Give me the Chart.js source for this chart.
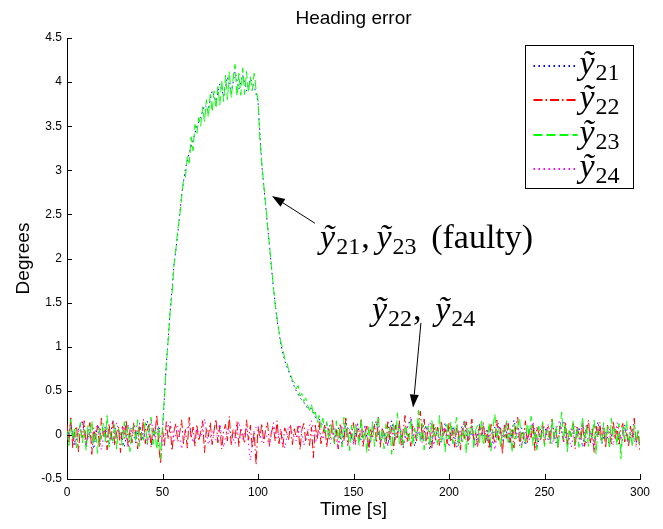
<!DOCTYPE html>
<html><head><meta charset="utf-8">
<script src="https://cdn.jsdelivr.net/npm/chart.js@4.4.1/dist/chart.umd.min.js"></script>
<style>html,body{margin:0;padding:0;background:#fff;overflow:hidden}#wrap{width:663px;height:529px}</style>
</head><body><div id="wrap"><canvas id="c" width="663" height="529"></canvas></div>
<script>
// ---------- text ----------
const titleText = 'Heading error';
const xAxisLabel = 'Time [s]';
const yAxisLabel = 'Degrees';

// ---------- tick labels ----------
const xTicks = [0, 50, 100, 150, 200, 250, 300];
const yTicks = [-0.5, 0, 0.5, 1, 1.5, 2, 2.5, 3, 3.5, 4, 4.5];

// ---------- series ----------
// y~21 : sampled every 2 s from t = 0 to 300
const y21Step = 2;
const y21 = [
  -0.04, 0.1, -0.13, 0.07, 0.15, -0.08, 0.03, -0.16, 0.12, -0.02,
  0.09, -0.11, 0.17, -0.05, 0.04, -0.14, 0.11, 0.06, -0.09, 0.13,
  -0.07, 0.16, -0.12, 0.05, 0.08,
  0.05, 0.8, 1.4, 1.92, 2.28,
  2.72, 3.02, 3.2, 3.34, 3.5,
  3.6, 3.74, 3.7, 3.9, 3.78,
  3.98, 3.84, 4.06, 3.88, 4.12,
  3.92, 4.08, 3.9, 4.04, 3.95,
  3.78, 3.06, 2.6, 2.14, 1.68,
  1.3, 1.02, 0.84, 0.72, 0.6,
  0.5, 0.42, 0.37, 0.3, 0.3,
  0.2, 0.18, 0.1, 0.08, 0.11,
  -0.03, 0.08, -0.11, 0.14, 0.02,
  -0.09, 0.12, -0.06, 0.1, -0.15, 0.05, 0.13, -0.08, 0.02, -0.12, 0.16, -0.04, 0.09, -0.1, 0.07, 0.18, -0.13, 0.04, -0.06, 0.11, -0.17, 0.08, 0.01, -0.09, 0.14,
  -0.05, 0.1, -0.14, 0.06, 0.15, -0.08, 0.03, -0.11, 0.12, -0.02, 0.07, -0.16, 0.09, 0.13, -0.07, 0.04, -0.1, 0.17, -0.03, 0.08, -0.12, 0.05, 0.11, -0.15, 0.02,
  0.1, -0.06, 0.14, -0.09, 0.03, 0.16, -0.12, 0.07, -0.04, 0.09, -0.14, 0.12, 0.01, -0.08, 0.15, -0.1, 0.05, -0.13, 0.08, 0.03, -0.16, 0.11, -0.05, 0.06, -0.09, 0.02
];

// y~22 : sampled every 1 s
const y22Step = 1;
const y22 = [
  0.12, -0.08, 0.21, -0.15, 0.04, 0.1, -0.19, 0.07, -0.03, 0.16,
  -0.11, 0.02, 0.14, -0.22, 0.08, -0.05, 0.11, -0.14, 0.19, -0.02,
  0.06, -0.17, 0.13, -0.07, 0.15, -0.12, 0.03, 0.09, -0.2, 0.11,
  -0.04, 0.17, -0.13, 0.06, -0.09, 0.14, 0.01, -0.16, 0.1, -0.06,
  0.18, -0.1, 0.05, 0.12, -0.14, 0.08, -0.02, 0.23, -0.11, -0.33,
  0.07, -0.12, 0.15, -0.05, 0.1, -0.18, 0.04, 0.13, -0.08, 0.02,
  0.17, -0.1, 0.06, -0.15, 0.2, -0.04, 0.09, -0.13, 0.12, -0.07,
  0.03, 0.16, -0.2, 0.08, -0.02, 0.14, -0.11, 0.05, 0.18, -0.09,
  0.1, -0.16, 0.04, 0.12, -0.07, 0.21, -0.12, 0.06, -0.03, 0.15,
  -0.13, 0.08, 0.01, -0.1, 0.17, -0.06, 0.11, -0.15, 0.04, -0.34,
  0.09, -0.04, 0.13, -0.09, 0.06, 0.14, -0.12, 0.03, 0.1, -0.07,
  0.16, -0.1, 0.05, -0.14, 0.08, 0.02, -0.06, 0.12, -0.11, 0.07,
  -0.03, 0.1, -0.17, 0.06, 0.13, -0.08, 0.04, -0.12, 0.09, -0.26,
  0.11, -0.05, 0.15, -0.1, 0.02, 0.12, -0.14, 0.07, -0.04, 0.18,
  -0.09, 0.06, -0.16, 0.13, 0.01, -0.07, 0.19, -0.12, 0.05, -0.02,
  0.14, -0.11, 0.08, -0.05, 0.17, -0.13, 0.03, 0.1, -0.18, 0.06,
  -0.04, 0.12, -0.09, 0.2, -0.14, 0.07, 0.02, -0.1, 0.15, -0.06,
  0.09, -0.17, 0.11, -0.03, 0.16, -0.12, 0.05, 0.22, -0.08, 0.01,
  -0.13, 0.1, 0.04, -0.07, 0.13, 0.27, -0.05, 0.18, -0.11, 0.08,
  0.03, -0.15, 0.12, -0.06, 0.09, -0.12, 0.16, -0.02, 0.07, -0.1,
  0.13, -0.08, 0.05, -0.14, 0.11, 0.02, -0.17, 0.09, -0.04, 0.15,
  -0.11, 0.06, 0.18, -0.07, 0.03, -0.13, 0.1, -0.02, 0.14, -0.09,
  0.05, -0.16, 0.12, 0.01, -0.1, 0.17, -0.06, 0.08, -0.22, 0.11,
  -0.04, 0.13, -0.08, 0.06, -0.15, 0.1, 0.2, -0.12, 0.04, -0.05,
  0.16, -0.1, 0.07, -0.03, 0.12, -0.18, 0.09, 0.02, -0.07, 0.14,
  -0.12, 0.05, 0.11, -0.09, 0.18, -0.04, 0.07, -0.14, 0.1, 0.03,
  -0.08, 0.15, -0.11, 0.06, -0.02, 0.13, -0.16, 0.09, 0.01, -0.06,
  0.12, -0.13, 0.04, 0.17, -0.09, 0.07, -0.2, 0.1, -0.03, 0.14,
  -0.07, 0.08, -0.15, 0.11, 0.02, -0.1, 0.16, -0.05, 0.09, -0.12,
  0.06, 0.13, -0.08, 0.03, -0.14, 0.1, -0.04, 0.19, -0.11, 0.05,
  -0.2
];

// y~23 : sampled every 1 s (faulty sensor)
const y23Step = 1;
const y23 = [
  0.05, -0.12, 0.18, -0.06, 0.09, -0.15, 0.02, 0.14, -0.09, 0.06,
  -0.18, 0.11, -0.03, 0.16, -0.11, 0.04, -0.21, 0.08, -0.05, 0.13,
  -0.08, 0.22, -0.14, 0.03, -0.07, 0.12, -0.16, 0.07, 0.01, -0.12,
  0.15, -0.04, 0.09, -0.19, 0.06, 0.11, -0.08, 0.17, -0.13, 0.02,
  -0.06, 0.14, -0.1, 0.08, 0.2, -0.11, 0.05, -0.17, 0.1, -0.27,
  0.1, 0.42, 0.8, 1.08, 1.4, 1.6, 1.93, 2.1, 2.33, 2.48,
  2.68, 2.9, 2.92, 3.16, 3.08, 3.38, 3.22, 3.52, 3.42, 3.6,
  3.5, 3.72, 3.55, 3.8, 3.6, 3.86, 3.66, 3.9, 3.7, 3.95,
  3.74, 4.02, 3.78, 4.08, 3.8, 4.12, 3.82, 4.05, 4.2, 3.84,
  4.1, 3.85, 4.16, 3.86, 4.12, 3.88, 4.06, 3.9, 4.1, 3.92,
  3.8, 3.35, 3.08, 2.84, 2.62, 2.38, 2.15, 1.92, 1.7, 1.48,
  1.32, 1.18, 1.05, 0.98, 0.86, 0.84, 0.74, 0.7, 0.62, 0.6,
  0.52, 0.56, 0.44, 0.47, 0.38, 0.42, 0.33, 0.28, 0.35, 0.22,
  0.26, 0.14, 0.22, 0.08, 0.19, 0.02, 0.15, -0.06, 0.12, 0.04,
  -0.1, 0.16, -0.05, 0.09, -0.14, 0.2, -0.02, 0.07, -0.18, 0.11,
  -0.07, 0.13, 0.01, -0.12, 0.18, -0.04, 0.06, -0.2, 0.1, -0.09,
  0.15, -0.13, 0.04, 0.21, -0.08, 0.07, -0.16, 0.12, -0.03, 0.09,
  -0.22, 0.14, -0.06, 0.25, -0.1, 0.05, -0.15, 0.11, 0.03, -0.07,
  0.19, -0.12, 0.08, -0.04, 0.28, -0.09, 0.13, -0.17, 0.06, 0.1,
  -0.14, 0.17, -0.02, 0.09, -0.11, 0.22, -0.08, 0.04, -0.19, 0.12,
  -0.05, 0.15, -0.1, 0.07, 0.2, -0.13, 0.03, -0.08, 0.16, -0.21,
  0.09, -0.04, 0.13, -0.16, 0.06, 0.11, -0.09, 0.18, -0.12, 0.02,
  -0.07, 0.14, -0.18, 0.08, 0.24, -0.06, 0.1, -0.14, 0.05, -0.03,
  0.17, -0.11, 0.07, -0.2, 0.12, -0.05, 0.09, 0.19, -0.15, 0.03,
  -0.09, 0.13, -0.02, 0.21, -0.12, 0.06, -0.17, 0.1, -0.04, 0.15,
  -0.13, 0.08, 0.02, -0.1, 0.18, -0.07, 0.11, -0.15, 0.05, 0.26,
  -0.06, 0.12, -0.19, 0.07, -0.02, 0.16, -0.11, 0.09, -0.14, 0.04,
  0.2, -0.08, 0.11, -0.13, 0.06, -0.04, 0.17, -0.22, 0.08, 0.01,
  -0.1, 0.14, -0.06, 0.1, -0.16, 0.19, -0.03, 0.07, -0.12, 0.13,
  -0.27, 0.09, -0.05, 0.16, -0.1, 0.03, -0.14, 0.11, -0.07, 0.05,
  -0.12
];

// y~24 : sampled every 2 s
const y24Step = 2;
const y24 = [
  -0.06, 0.13, -0.1, 0.04, 0.16, -0.13, 0.07, -0.02, 0.11, -0.17, 0.08, 0.02, -0.09, 0.14, -0.05, 0.1, -0.14, 0.06, 0.12, -0.08, 0.03, -0.11, 0.17, -0.04, 0.09,
  -0.12, 0.05, 0.15, -0.07, 0.1, -0.16, 0.03, 0.12, -0.09, 0.07, -0.03, 0.18, -0.11, 0.04, -0.06, 0.13, -0.14, 0.08, 0.01, -0.1, 0.15, -0.05, 0.09, -0.29, 0.06,
  0.11, -0.08, 0.03, -0.13, 0.14, -0.04, 0.07, -0.15, 0.1, 0.02, -0.07, 0.12, -0.12, 0.05, 0.16, -0.09, 0.04, -0.05, 0.13, -0.1, 0.08, -0.16, 0.11, -0.01, 0.06,
  -0.11, 0.14, -0.03, 0.09, -0.13, 0.05, 0.17, -0.08, 0.02, -0.12, 0.1, -0.06, 0.13, -0.15, 0.07, 0.21, -0.04, 0.11, -0.09, 0.03, 0.15, -0.12, 0.06, -0.02, 0.09,
  -0.14, 0.08, 0.01, -0.1, 0.16, -0.05, 0.1, -0.13, 0.04, 0.12, -0.08, 0.06, -0.17, 0.11, -0.02, 0.14, -0.09, 0.05, 0.09, -0.12, 0.03, -0.06, 0.15, -0.1, 0.07,
  -0.04, 0.12, -0.11, 0.06, 0.17, -0.08, 0.02, -0.14, 0.1, -0.05, 0.13, -0.09, 0.04, -0.16, 0.08, 0.11, -0.03, 0.07, -0.12, 0.14, -0.06, 0.09, -0.1, 0.03, -0.13, -0.08
];

// ---------- annotations (in data units) ----------
const annotations = [
  { parts: [['y', '21'], [', '], ['y', '23'], ['  (faulty)']], text: { x: 132.5, y: 2.12 }, from: { x: 129.8, y: 2.4 }, to: { x: 107.3, y: 2.71 } },
  { parts: [['y', '22'], [',  '], ['y', '24']], text: { x: 159.7, y: 1.3 }, from: { x: 185.3, y: 1.27 }, to: { x: 181.2, y: 0.31 } }
];

const SANS = '"Liberation Sans", Arial, Helvetica, sans-serif';
const SERIF = '"Liberation Serif", "Times New Roman", serif';
const MAIN = 34, SUB = 24;

const toPoints = (vals, step) => vals.map((v, i) => ({ x: i * step, y: v }));

function drawMath(ctx, x, base, parts) {
  ctx.textAlign = 'left';
  ctx.textBaseline = 'alphabetic';
  for (const p of parts) {
    if (p.length === 2) {
      ctx.font = 'italic ' + MAIN + 'px ' + SERIF;
      ctx.fillText('\u1EF9', x, base);
      x += ctx.measureText('\u1EF9').width + 1;
      ctx.font = SUB + 'px ' + SERIF;
      ctx.fillText(p[1], x, base + 6);
      x += ctx.measureText(p[1]).width;
    } else {
      ctx.font = MAIN + 'px ' + SERIF;
      const s = p[0].replace(/ /g, '\u2009');
      ctx.fillText(s, x + 1, base);
      x += ctx.measureText(s).width + 1;
    }
  }
  return x;
}

function arrow(ctx, x1, y1, x2, y2) {
  const a = Math.atan2(y2 - y1, x2 - x1);
  const L = 13, W = 4.5;
  const bx = x2 - L * Math.cos(a), by = y2 - L * Math.sin(a);
  ctx.beginPath();
  ctx.moveTo(x1, y1); ctx.lineTo(bx, by);
  ctx.stroke();
  ctx.beginPath();
  ctx.moveTo(x2, y2);
  ctx.lineTo(bx + W * Math.sin(a), by - W * Math.cos(a));
  ctx.lineTo(bx - W * Math.sin(a), by + W * Math.cos(a));
  ctx.closePath();
  ctx.fill();
}

const overlay = {
  id: 'overlay',
  afterDraw(chart) {
    const { ctx, chartArea: ca, scales: { x, y } } = chart;
    ctx.save();
    // inward tick marks
    ctx.strokeStyle = '#000'; ctx.lineWidth = 1; ctx.setLineDash([]);
    ctx.beginPath();
    xTicks.forEach(v => { const px = Math.round(x.getPixelForValue(v)) + 0.5; ctx.moveTo(px, ca.bottom); ctx.lineTo(px, ca.bottom - 5); });
    yTicks.forEach(v => { const py = Math.round(y.getPixelForValue(v)) + 0.5; ctx.moveTo(ca.left, py); ctx.lineTo(ca.left + 5, py); });
    ctx.stroke();
    // title
    ctx.fillStyle = '#000';
    ctx.font = '19px ' + SANS;
    ctx.textAlign = 'center'; ctx.textBaseline = 'middle';
    ctx.fillText(titleText, (ca.left + ca.right) / 2, 19);
    // legend
    const bw = 108, bh = 143;
    const bl = Math.round(ca.right - 7 - bw) + 0.5, bt = Math.round(ca.top + 7) + 0.5;
    ctx.fillStyle = '#fff';
    ctx.fillRect(bl, bt, bw, bh);
    ctx.strokeStyle = '#000'; ctx.lineWidth = 1;
    ctx.strokeRect(bl, bt, bw, bh);
    chart.data.datasets.forEach((ds, i) => {
      const ly = Math.round(bt + 20 + i * 34.5);
      ctx.save();
      ctx.strokeStyle = ds.borderColor; ctx.lineWidth = 2;
      ctx.setLineDash(ds.borderDash);
      ctx.beginPath(); ctx.moveTo(bl + 8, ly); ctx.lineTo(bl + 52, ly); ctx.stroke();
      ctx.restore();
      ctx.fillStyle = '#000';
      drawMath(ctx, bl + 54, ly + 8, [['y', ds.sub]]);
    });
    // annotations
    ctx.fillStyle = '#000'; ctx.strokeStyle = '#000'; ctx.lineWidth = 1;
    annotations.forEach(a => {
      drawMath(ctx, x.getPixelForValue(a.text.x), y.getPixelForValue(a.text.y), a.parts);
      arrow(ctx, x.getPixelForValue(a.from.x), y.getPixelForValue(a.from.y), x.getPixelForValue(a.to.x), y.getPixelForValue(a.to.y));
    });
    ctx.restore();
  }
};

const common = { borderWidth: 1, pointRadius: 0, fill: false, tension: 0 };
const tickFont = { family: SANS, size: 12 };

new Chart(document.getElementById('c'), {
  type: 'line',
  data: {
    datasets: [
      { ...common, label: '\u1EF921', sub: '21', data: toPoints(y21, y21Step), borderColor: '#0000ff', borderDash: [1.5, 3.5], order: 4 },
      { ...common, label: '\u1EF922', sub: '22', data: toPoints(y22, y22Step), borderColor: '#ff0000', borderDash: [9, 3, 1.5, 3], order: 3 },
      { ...common, label: '\u1EF923', sub: '23', data: toPoints(y23, y23Step), borderColor: '#00ff00', borderDash: [9, 4], order: 2 },
      { ...common, label: '\u1EF924', sub: '24', data: toPoints(y24, y24Step), borderColor: '#ff00ff', borderDash: [1.5, 3.5], order: 1 }
    ]
  },
  options: {
    responsive: false,
    animation: false,
    devicePixelRatio: 1,
    layout: { padding: { left: 0, right: 23, top: 38, bottom: 0 } },
    plugins: { legend: { display: false }, tooltip: { enabled: false }, title: { display: false } },
    scales: {
      x: {
        type: 'linear', min: 0, max: 300,
        afterBuildTicks: s => { s.ticks = xTicks.map(v => ({ value: v })); },
        afterFit: s => { s.height = 50; },
        grid: { display: false, drawTicks: false },
        border: { display: true, color: '#000', width: 1 },
        ticks: { padding: 6, color: '#000', font: tickFont, maxRotation: 0, autoSkip: false, callback: v => String(v) },
        title: { display: true, text: xAxisLabel, color: '#000', font: { family: SANS, size: 19 }, padding: { top: 0, bottom: 8 } }
      },
      y: {
        type: 'linear', min: -0.5, max: 4.5,
        afterBuildTicks: s => { s.ticks = yTicks.map(v => ({ value: v })); },
        afterFit: s => { s.width = 67; },
        grid: { display: false, drawTicks: false },
        border: { display: true, color: '#000', width: 1 },
        ticks: { padding: 5, color: '#000', font: tickFont, autoSkip: false, callback: v => String(v) },
        title: { display: true, text: yAxisLabel, color: '#000', font: { family: SANS, size: 19 }, padding: { top: 12, bottom: 0 } }
      }
    }
  },
  plugins: [overlay]
});
</script>
</body></html>
